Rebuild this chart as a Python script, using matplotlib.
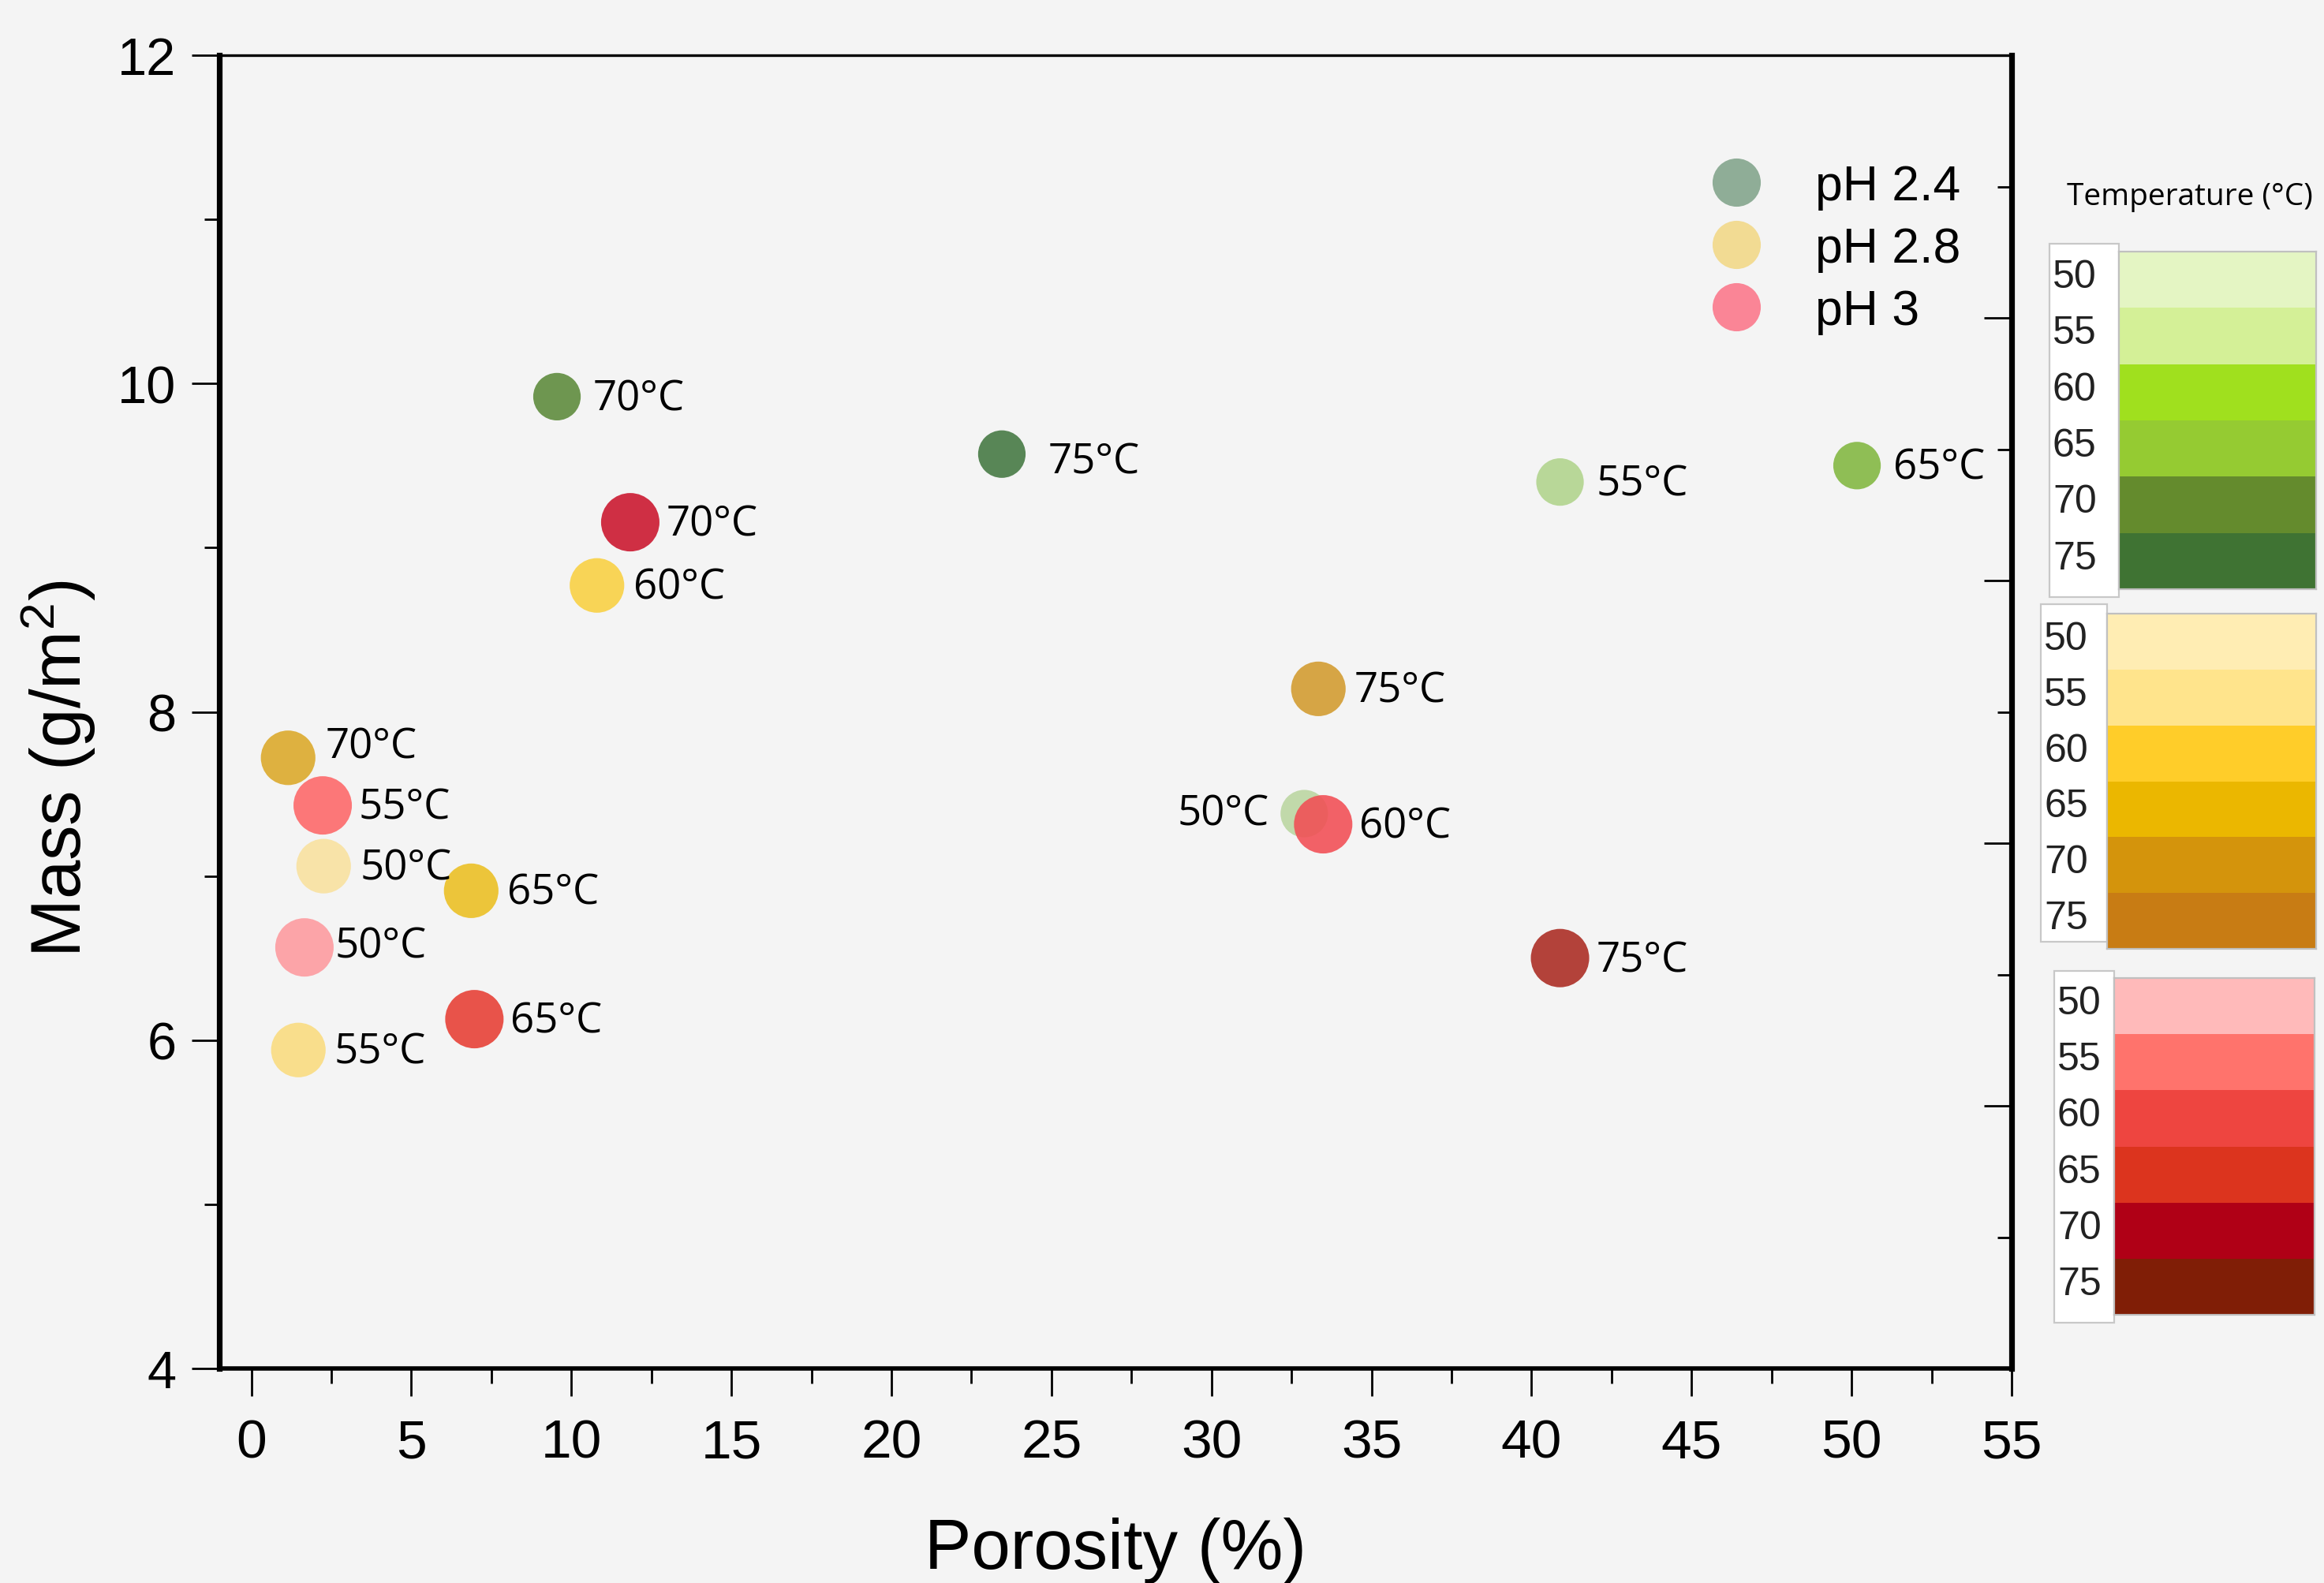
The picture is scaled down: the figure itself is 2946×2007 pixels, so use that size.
import numpy as np
import matplotlib.pyplot as plt
from matplotlib.lines import Line2D
from matplotlib.patches import Rectangle
from matplotlib.ticker import MultipleLocator, NullFormatter
from matplotlib import transforms

plt.rcParams['font.family'] = ['Liberation Sans', 'DejaVu Sans']
plt.rcParams['mathtext.fontset'] = 'custom'
plt.rcParams['mathtext.rm'] = 'Liberation Sans'
plt.rcParams['mathtext.it'] = 'Liberation Sans:italic'

# --- data ---
temps = [50, 55, 60, 65, 70, 75]

# pH 2.4 (no 60 °C point shown)
g_temp = [70, 75, 55, 65, 50]
g_por = [9.55, 23.45, 40.89, 50.17, 32.90]
g_mass = [9.92, 9.57, 9.40, 9.50, 7.38]

# pH 2.8
y_temp = [60, 75, 70, 50, 65, 55]
y_por = [10.80, 33.34, 1.15, 2.26, 6.87, 1.47]
y_mass = [8.77, 8.14, 7.72, 7.06, 6.91, 5.94]

# pH 3
r_temp = [70, 55, 50, 65, 60, 75]
r_por = [11.84, 2.23, 1.66, 6.97, 33.49, 40.89]
r_mass = [9.155, 7.43, 6.565, 6.128, 7.315, 6.50]

legend_labels = ['pH 2.4', 'pH 2.8', 'pH 3']
legend_cols = ['#8fad97', '#f2db93', '#fa8596']

# marker colours by temperature
g_cols = {50: '#c1d9aa', 55: '#b8d798', 65: '#8fbe55', 70: '#6e9650', 75: '#588656'}
y_cols = {50: '#f8e3a8', 55: '#f9de8c', 60: '#f8d456', 65: '#ecc53a', 70: '#deb140', 75: '#d6a545'}
r_cols = {50: '#fca4a8', 55: '#fc7778', 60: (0.95, 0.30, 0.33, 0.88), 65: '#e8534a', 70: '#cf2f44', 75: '#b3423a'}

# colour scales on the right
g_scale = ['#e4f5c3', '#d4f097', '#a0e01e', '#95cb32', '#648b2d', '#3f7333']
y_scale = ['#ffedb3', '#ffe48c', '#ffcd29', '#ebb700', '#d4940c', '#c87c14']
r_scale = ['#ffbaba', '#ff736c', '#ee4540', '#dc341e', '#b00016', '#801e06']

W, H = 2946, 2008
DPI = 200
bg = '#f4f4f4'

def frect(x0, y0, x1, y1):
    # pixel box -> figure fraction
    return [x0 / W, 1 - y1 / H, (x1 - x0) / W, (y1 - y0) / H]

fig = plt.figure(figsize=(W / DPI, H / DPI), dpi=DPI, facecolor=bg)
ax = fig.add_axes(frect(278, 71, 2550, 1736), facecolor=bg)

# label offsets (points) for the temperature tags
default_off = (16.5, -1.0)
off_fix = {('g', 75): (21, -3.5), ('g', 50): (-16, 0), ('y', 70): (17, 5), ('r', 50): (14, 0.5)}
lab_font = dict(family=['Open Sans', 'DejaVu Sans'], fontsize=19)

groups = [('g', g_temp, g_por, g_mass, g_cols, 470),
          ('y', y_temp, y_por, y_mass, y_cols, 620),
          ('r', r_temp, r_por, r_mass, r_cols, 710)]
for key, tt, xx, yy, cols, s in groups:
    ax.scatter(xx, yy, s=s, c=[cols[t] for t in tt], linewidths=0, zorder=3)
    for t, x, y in zip(tt, xx, yy):
        dx, dy = off_fix.get((key, t), default_off)
        ax.annotate(f'{t}°C', (x, y), xytext=(dx, dy), textcoords='offset points',
                    ha='left' if dx > 0 else 'right', va='center', zorder=4, **lab_font)

ax.set_xlim(-1, 55)
ax.set_ylim(4, 12)
ax.xaxis.set_major_locator(MultipleLocator(5))
ax.xaxis.set_minor_locator(MultipleLocator(2.5))
ax.yaxis.set_major_locator(MultipleLocator(2))
ax.yaxis.set_minor_locator(MultipleLocator(1))
ax.tick_params(axis='both', which='major', direction='out', length=12.6, width=1.0, pad=7)
ax.tick_params(axis='both', which='minor', direction='out', length=7, width=1.0)
ax.tick_params(axis='x', labelsize=25, pad=10)
ax.tick_params(axis='y', labelsize=24)
ax.spines['left'].set_linewidth(2.6)
ax.spines['bottom'].set_linewidth(2.0)
ax.spines['top'].set_linewidth(1.2)
ax.spines['right'].set_linewidth(2.6)

ax.set_xlabel('Porosity (%)', fontsize=32, labelpad=22)
ax.set_ylabel('Mass (g/m$^2$)', fontsize=32)
ax.yaxis.set_label_coords(-0.068, 0.457)

# right axis: unlabeled inward ticks (second Origin layer)
ax2 = ax.twinx()
ax2.set_ylim(0, 10)
ax2.yaxis.set_major_locator(MultipleLocator(2))
ax2.yaxis.set_minor_locator(MultipleLocator(1))
ax2.yaxis.set_major_formatter(NullFormatter())
ax2.tick_params(axis='y', which='major', direction='in', length=12.6, width=1.0)
ax2.tick_params(axis='y', which='minor', direction='in', length=6.5, width=1.0)
for sp in ax2.spines.values():
    sp.set_visible(False)

handles = [Line2D([], [], ls='none', marker='o', markersize=22, markerfacecolor=c,
                  markeredgewidth=0) for c in legend_cols]
ax.legend(handles, legend_labels, loc='upper left', bbox_to_anchor=(2170 / W, 1 - 208 / H),
          bbox_transform=fig.transFigure, frameon=False, fontsize=22.5, handlelength=1.0,
          handletextpad=1.1, labelspacing=0.32, borderpad=0, borderaxespad=0)

# temperature colour keys
fig.text(2620 / W, 1 - 250 / H, 'Temperature (°C)', va='center', ha='left',
         family=['Open Sans', 'DejaVu Sans'], fontsize=14)

blocks = [(g_scale, (2598, 310, 2686, 758), (2686, 320, 2936, 748)),
          (y_scale, (2587, 767, 2671, 1195), (2671, 779, 2936, 1204)),
          (r_scale, (2604, 1232, 2680, 1678), (2680, 1241, 2934, 1668))]
for scale, box, strip in blocks:
    fig.patches.append(Rectangle((box[0] / W, 1 - box[3] / H), (box[2] - box[0]) / W,
                                 (box[3] - box[1]) / H, transform=fig.transFigure,
                                 facecolor='white', edgecolor='#c8c8c8', lw=0.8, zorder=-1))
    cax = fig.add_axes(frect(*strip))
    cax.barh(np.arange(len(temps)), 1, height=1, color=scale)
    cax.set_xlim(0, 1)
    cax.set_ylim(len(temps) - 0.5, -0.5)
    cax.set_xticks([])
    cax.set_yticks([])
    for sp in cax.spines.values():
        sp.set_color('#c0c0c0')
        sp.set_linewidth(0.8)
    tr = transforms.blended_transform_factory(cax.transAxes, cax.transData)
    xl = (box[0] + 4 - strip[0]) / (strip[2] - strip[0])
    for i, t in enumerate(temps):
        cax.text(xl, i - 0.05, str(t), transform=tr, ha='left', va='center',
                 fontsize=18, color='#222222', clip_on=False)

fig.savefig('out.png', dpi=DPI, facecolor=bg)
